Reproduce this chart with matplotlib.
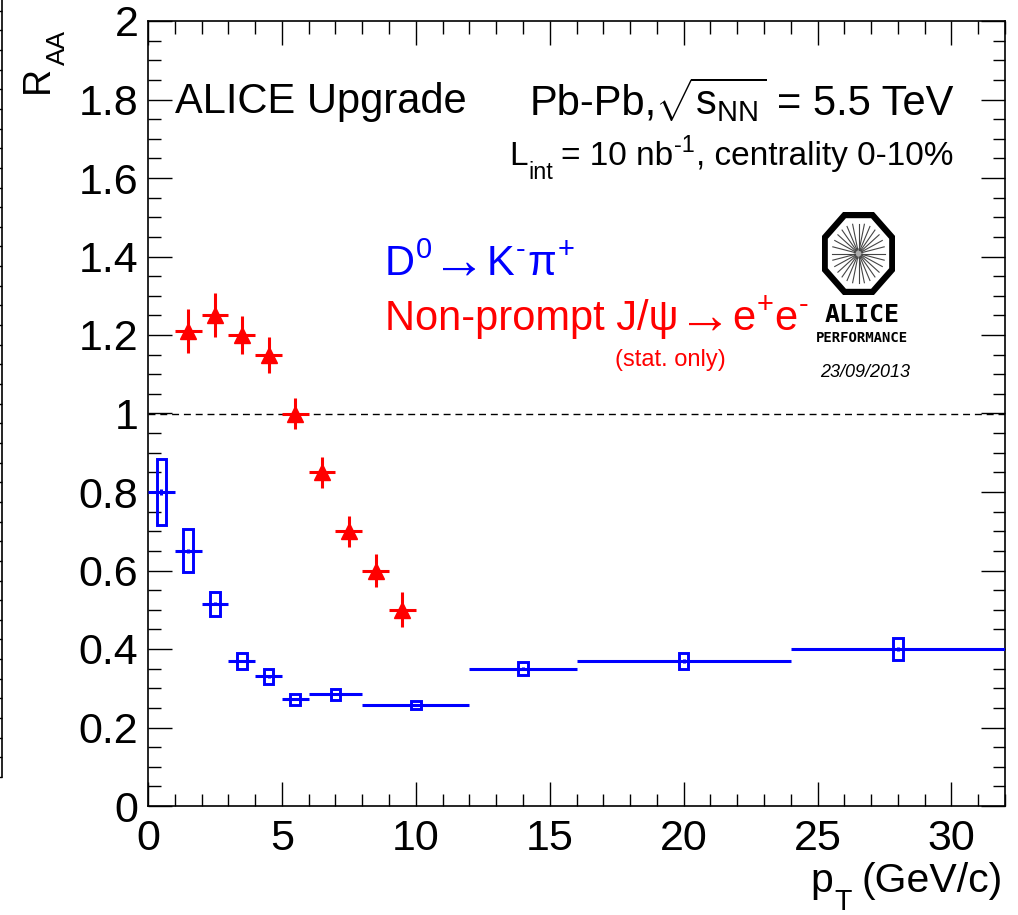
import numpy as np
import matplotlib
matplotlib.use("Agg")
import matplotlib.pyplot as plt
from matplotlib.patches import Rectangle, Polygon, Circle
from matplotlib.ticker import MultipleLocator, FuncFormatter
from matplotlib.transforms import IdentityTransform

plt.rcParams['font.family'] = ['Liberation Sans', 'DejaVu Sans']
plt.rcParams['mathtext.fontset'] = 'custom'
plt.rcParams['mathtext.rm'] = 'Liberation Sans'
plt.rcParams['mathtext.it'] = 'Liberation Sans:italic'
plt.rcParams['mathtext.bf'] = 'Liberation Sans:bold'
plt.rcParams['mathtext.sf'] = 'Liberation Sans'

# D0 -> K- pi+ : bin centres, bin half-widths, R_AA, stat and syst half-heights
d0_pt = [0.5, 1.5, 2.5, 3.5, 4.5, 5.5, 7.0, 10.0, 14.0, 20.0, 28.0]
d0_pt_halfwidth = [0.5, 0.5, 0.5, 0.5, 0.5, 0.5, 1.0, 2.0, 2.0, 4.0, 4.0]
d0_raa = [0.80, 0.65, 0.515, 0.37, 0.33, 0.272, 0.285, 0.257, 0.35, 0.37, 0.40]
d0_stat = [0.008, 0.005, 0.004, 0.003, 0.003, 0.003, 0.003, 0.003, 0.004, 0.005, 0.006]
d0_syst = [0.085, 0.055, 0.03, 0.02, 0.019, 0.014, 0.014, 0.011, 0.017, 0.021, 0.028]

# Non-prompt J/psi -> e+ e- (statistical uncertainties only)
jpsi_pt = [1.5, 2.5, 3.5, 4.5, 5.5, 6.5, 7.5, 8.5, 9.5]
jpsi_pt_halfwidth = [0.5] * 9
jpsi_raa = [1.21, 1.25, 1.20, 1.15, 1.00, 0.85, 0.70, 0.60, 0.50]
jpsi_stat = [0.055, 0.056, 0.048, 0.046, 0.04, 0.04, 0.04, 0.042, 0.045]

W, H = 1018, 915
fig = plt.figure(figsize=(W / 100, H / 100), dpi=100)
renderer = fig.canvas.get_renderer()


def fx(px):
    return px / W


def fy(py):
    return 1 - py / H


def rich(x0, y0, pieces, size, color='black', ha='left', rotation=0,
         sup_rise=0.40, sub_drop=0.45, **kw):
    """Lay out ROOT-like text pieces ('n', 'sup', 'sub') along a baseline.
    Each piece is (text, kind[, gap_px[, extra_text_kwargs]]).
    x0, y0 are pixel positions from the top-left corner; for rotation=90
    the text runs upwards from (x0, y0)."""
    em = size * 100 / 72
    items = []
    for p in pieces:
        s, kind = p[0], p[1]
        gap = p[2] if len(p) > 2 else 0
        extra = dict(kw)
        if len(p) > 3:
            extra.update(p[3])
        scale = extra.pop('scale', 1.0)
        lift = extra.pop('lift', 0.0)
        if kind == 'sup':
            fs, dy = size * 0.7, sup_rise * em
        elif kind == 'sub':
            fs, dy = size * 0.7, -sub_drop * em
        else:
            fs, dy = size, 0.0
        fs *= scale
        dy += lift
        t = fig.text(0, 0, s, fontsize=fs, color=color, ha='left',
                     va='baseline', rotation=rotation, rotation_mode='anchor',
                     transform=IdentityTransform(), **extra)
        probe = fig.text(0, 0, s, fontsize=fs, transform=IdentityTransform(),
                         **extra)
        w = probe.get_window_extent(renderer).width
        probe.remove()
        items.append((t, w, dy, gap))
    total = sum(w + g for _, w, _, g in items)
    pos = -total if ha == 'right' else 0.0
    for t, w, dy, g in items:
        if rotation == 90:
            t.set_position((x0 - dy, (H - y0) + pos))
        else:
            t.set_position((x0 + pos, (H - y0) + dy))
        pos += w + g


ARROW = {'family': ['Liberation Serif', 'DejaVu Sans'], 'scale': 1.3, 'lift': -3}

# main frame
ax = fig.add_axes([fx(148), fy(806), fx(1005) - fx(148), fy(21) - fy(806)])
ax.set_xlim(0, 32)
ax.set_ylim(0, 2)

# neighbouring panel edge at the far left
axl = fig.add_axes([fx(-120), fy(777), fx(122), fy(0) - fy(777)])
axl.set_xlim(0, 1)
axl.set_ylim(0, 777 / 393)
for s in ('left', 'top', 'bottom'):
    axl.spines[s].set_visible(False)
axl.spines['right'].set_linewidth(1.2)
axl.yaxis.set_major_locator(MultipleLocator(0.2))
axl.yaxis.set_minor_locator(MultipleLocator(0.05))
axl.tick_params(which='both', direction='in', left=False, right=True,
                labelleft=False, labelright=False, bottom=False,
                labelbottom=False, length=9, width=1.0)

# reference line at R_AA = 1
ax.plot([0, 32], [1, 1], color='black', lw=1.0, ls=(0, (5, 3.5)), zorder=1)

# D0: systematic boxes, bin widths and stat bars
box_w = 0.36
for pt, r, sy in zip(d0_pt, d0_raa, d0_syst):
    ax.add_patch(Rectangle((pt - box_w / 2, r - sy), box_w, 2 * sy,
                           fill=False, ec='#0000ff', lw=2.1, zorder=3))
ax.errorbar(d0_pt, d0_raa, xerr=d0_pt_halfwidth, yerr=d0_stat, fmt='none',
            ecolor='#0000ff', elinewidth=2.2, capsize=0, zorder=3)

# J/psi: filled triangles with error bars
ax.errorbar(jpsi_pt, jpsi_raa, xerr=jpsi_pt_halfwidth, yerr=jpsi_stat,
            fmt='^', color='#ff0000', ms=12, mec='#ff0000', mfc='#ff0000',
            elinewidth=2.2, capsize=0, zorder=4)

# ticks
ax.xaxis.set_major_locator(MultipleLocator(5))
ax.xaxis.set_minor_locator(MultipleLocator(1))
ax.yaxis.set_major_locator(MultipleLocator(0.2))
ax.yaxis.set_minor_locator(MultipleLocator(0.05))
ax.yaxis.set_major_formatter(FuncFormatter(lambda v, p: '%g' % round(v, 2)))
ax.xaxis.set_major_formatter(FuncFormatter(lambda v, p: '%g' % v))
ax.tick_params(which='both', direction='in', top=True, right=True, width=1.0)
ax.tick_params(which='major', length=17, labelsize=31)
ax.tick_params(which='minor', length=9)
ax.tick_params(axis='x', which='major', pad=9)
ax.tick_params(axis='y', which='major', pad=7)
for s in ax.spines.values():
    s.set_linewidth(1.2)

# axis titles
rich(1003, 892, [('p', 'n', 1), ('T', 'sub', 10), ('(GeV/c)', 'n')], 29.5,
     ha='right')
rich(48, 93, [('R', 'n', 1), ('AA', 'sub')], 27, rotation=90)

# header texts
fig.text(fx(175), fy(113), 'ALICE Upgrade', fontsize=30, va='baseline')
rich(953, 115, [('Pb-Pb,', 'n', -2), (r'$\sqrt{\rm s_{NN}}$', 'n', 10),
                ('= 5.5 TeV', 'n')], 30, ha='right')
rich(953, 165, [('L', 'n', 1), ('int', 'sub', 7), ('= 10 nb', 'n', 1),
                ('-1', 'sup', 1), (', centrality 0-10%', 'n')], 24,
     ha='right', sub_drop=0.42)

# legend texts
rich(385, 275, [('D', 'n', 1), ('0', 'sup', 0), ('→', 'n', 0, ARROW),
                ('K', 'n', 2), ('-', 'sup', 2), ('π', 'n', 1), ('+', 'sup')],
     30, color='#0000ff')
rich(385, 330, [('Non-prompt J/ψ', 'n', 0), ('→', 'n', 0, ARROW),
                ('e', 'n', 1), ('+', 'sup', 1), ('e', 'n', 1), ('-', 'sup')],
     30, color='#ff0000')
fig.text(fx(615), fy(366), '(stat. only)', fontsize=17, color='#ff0000',
         va='baseline')

# performance logo
axg = fig.add_axes([fx(822), fy(295), fx(895) - fx(822), fy(212) - fy(295)])
axg.set_xlim(-1.08, 1.08)
axg.set_ylim(-1.08, 1.08)
axg.axis('off')
ang = np.deg2rad(22.5 + 45 * np.arange(8))
rad = 1 / np.cos(np.deg2rad(22.5))
axg.add_patch(Polygon(np.c_[rad * np.cos(ang), rad * np.sin(ang)], closed=True,
                      fill=False, ec='black', lw=4.5, joinstyle='miter'))
for a in np.linspace(0, 2 * np.pi, 28, endpoint=False):
    axg.plot([0.1 * np.cos(a), 0.78 * np.cos(a)], [0.1 * np.sin(a), 0.78 * np.sin(a)],
             color='#444444', lw=0.8)
axg.add_patch(Circle((0, 0), 0.12, color='#aaaaaa'))

fig.text(fx(862), fy(322), 'ALICE', family='DejaVu Sans Mono', weight='bold',
         fontsize=18, ha='center', va='baseline')
fig.text(fx(862), fy(342), 'PERFORMANCE', family='DejaVu Sans Mono', weight='bold',
         fontsize=10, ha='center', va='baseline')
fig.text(fx(865), fy(377), '23/09/2013', style='italic', fontsize=13,
         ha='center', va='baseline')

fig.savefig('out.png', dpi=100)
